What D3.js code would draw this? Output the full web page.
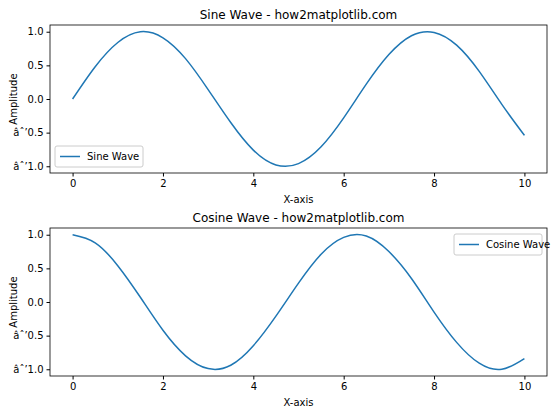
<!DOCTYPE html><html><head><script src="https://d3js.org/d3.v7.min.js"></script>
<style>body{margin:0;background:#fff}text{font-family:"DejaVu Sans",sans-serif;}</style></head><body>
<svg id="c" width="560" height="420"></svg>
<script>
const xs=[0,0.5,1,1.5,2,2.5,3,3.5,4,4.5,5,5.5,6,6.5,7,7.5,8,8.5,9,9.5,10];
const sineVals=[0,0.48,0.84,1.0,0.91,0.60,0.14,-0.35,-0.76,-0.98,-0.96,-0.71,-0.28,0.22,0.66,0.94,0.99,0.80,0.41,-0.08,-0.54];
const cosVals=[1,0.88,0.54,0.07,-0.42,-0.80,-0.99,-0.94,-0.65,-0.21,0.28,0.71,0.96,0.98,0.75,0.35,-0.15,-0.60,-0.91,-1.0,-0.84];
const xTicks=[0,2,4,6,8,10];
const yTicks=[-1.0,-0.5,0.0,0.5,1.0];
const svg=d3.select("#c");
const color="#1f77b4";
function panel(top,vals,title,label,legendRight){
  const L=50,R=547,T=top,B=top+148;
  const x=d3.scaleLinear().domain([-0.5,10.5]).range([L,R]);
  const y=d3.scaleLinear().domain([-1.1,1.1]).range([B,T]);
  const g=svg.append("g");
  g.append("rect").attr("x",L).attr("y",T).attr("width",R-L).attr("height",B-T).attr("fill","none").attr("stroke","#000").attr("stroke-width",0.8);
  const xa=g.append("g").attr("transform",`translate(0,${B})`).call(d3.axisBottom(x).tickValues(xTicks).tickFormat(d3.format("d")).tickSize(3.5));
  const ya=g.append("g").attr("transform",`translate(${L},0)`).call(d3.axisLeft(y).tickValues(yTicks).tickFormat(d3.format(".1f")).tickSize(3.5));
  [xa,ya].forEach(a=>{a.select(".domain").remove();a.selectAll("text").attr("font-size",10).attr("fill","#000");});
  g.append("path").datum(xs.map((d,i)=>[d,vals[i]])).attr("fill","none").attr("stroke",color).attr("stroke-width",1.5)
    .attr("d",d3.line().x(d=>x(d[0])).y(d=>y(d[1])).curve(d3.curveNatural));
  g.append("text").attr("x",(L+R)/2).attr("y",T-6).attr("text-anchor","middle").attr("font-size",12).text(title);
  g.append("text").attr("x",(L+R)/2).attr("y",B+30).attr("text-anchor","middle").attr("font-size",10).text("X-axis");
  g.append("text").attr("transform",`translate(${L-33},${(T+B)/2}) rotate(-90)`).attr("text-anchor","middle").attr("font-size",10).text("Amplitude");
  const lw=88,lh=21;
  const lx=legendRight?R-5-lw:L+5, ly=legendRight?T+6:B-6-lh;
  g.append("rect").attr("x",lx).attr("y",ly).attr("width",lw).attr("height",lh).attr("rx",2).attr("fill","#fff").attr("stroke","#ccc");
  g.append("line").attr("x1",lx+5).attr("x2",lx+25).attr("y1",ly+lh/2).attr("y2",ly+lh/2).attr("stroke",color).attr("stroke-width",1.5);
  g.append("text").attr("x",lx+32).attr("y",ly+lh/2+3.5).attr("font-size",10).text(label);
}
panel(25,sineVals,"Sine Wave - how2matplotlib.com","Sine Wave",false);
panel(228,cosVals,"Cosine Wave - how2matplotlib.com","Cosine Wave",true);
</script></body></html>
